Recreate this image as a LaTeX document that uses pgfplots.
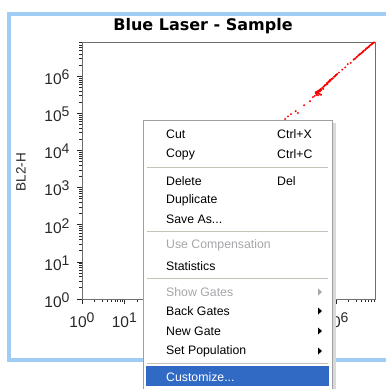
\documentclass[border=0pt]{standalone}
\usepackage{pgfplots}
\pgfplotsset{compat=1.18}
\usepackage{fontspec}
\setmainfont{Liberation Sans}
\newfontfamily\titlefont{DejaVu Sans}
\definecolor{framebl}{RGB}{160,205,245}
\definecolor{axgray}{RGB}{110,110,110}
\definecolor{ticktxt}{RGB}{40,40,40}
\definecolor{menuborder}{RGB}{160,160,160}
\definecolor{sepcol}{RGB}{197,194,184}
\definecolor{disabled}{RGB}{167,166,170}
\definecolor{hilite}{RGB}{49,106,197}
\newcommand\tl[1]{10\raisebox{5pt}{\fontsize{14}{14}\selectfont #1}}
\newcommand\mfont{\fontsize{12.3}{12.3}\selectfont}
\begin{document}
\begin{tikzpicture}[x=1pt,y=-1pt]
\useasboundingbox (0,0) rectangle (386,389);
\fill[white] (0,0) rectangle (386,389);
% outer window frame
\draw[framebl, line width=4pt] (9,13.5) rectangle (400,360);
% title
\node at (203,26) {\titlefont\bfseries\fontsize{16}{16}\selectfont Blue Laser - Sample};
\node[rotate=90, text=ticktxt] at (21,172) {\fontsize{13.5}{13.5}\selectfont BL2-H};
\coordinate (axsw) at (82,299);
\begin{axis}[
  at={(axsw)}, anchor=south west,
  scale only axis, width=293pt, height=257pt,
  xmode=log, ymode=log,
  xmin=1, xmax=8388608, ymin=1, ymax=8388608,
  axis line style={axgray, line width=0.9pt},
  tick pos=left, tick align=outside,
  major tick length=5pt, minor tick length=2.5pt,
  every tick/.style={ticktxt, line width=0.7pt},
  xtick={1,10,100,1000,10000,100000,1000000},
  ytick={1,10,100,1000,10000,100000,1000000},
  minor xtick={2,3,4,5,6,7,8,9,20,30,40,50,60,70,80,90,200,300,400,500,600,700,800,900,2000,3000,4000,5000,6000,7000,8000,9000,20000,30000,40000,50000,60000,70000,80000,90000,200000,300000,400000,500000,600000,700000,800000,900000,2000000,3000000,4000000,5000000,6000000,7000000,8000000},
  minor ytick={2,3,4,5,6,7,8,9,20,30,40,50,60,70,80,90,200,300,400,500,600,700,800,900,2000,3000,4000,5000,6000,7000,8000,9000,20000,30000,40000,50000,60000,70000,80000,90000,200000,300000,400000,500000,600000,700000,800000,900000,2000000,3000000,4000000,5000000,6000000,7000000,8000000},
  xticklabels={\tl{0},\tl{1},{},{},{},{},\tl{6}},
  yticklabels={\tl{0},\tl{1},\tl{2},\tl{3},\tl{4},\tl{5},\tl{6}},
  ticklabel style={font=\fontsize{15.5}{15.5}\selectfont, text=ticktxt},
  xticklabel style={yshift=-5pt},
  yticklabel style={xshift=-4pt, yshift=-1pt},
  clip=true,
]
\addplot[only marks, mark=*, mark size=0.75pt, red, mark options={draw=red, fill=red}] coordinates {
(6.31e4,7.08e4) (7.41e4,8.32e4) (8.71e4,9.55e4) (1.259e5,1.023e5) (1.122e5,1.148e5)
(1.778e5,1.660e5) (2.455e5,2.138e5) (2.884e5,2.754e5)
(3.162e5,2.951e5) (3.311e5,3.548e5) (3.467e5,3.162e5) (3.548e5,3.802e5) (3.631e5,3.388e5)
(3.715e5,3.715e5) (3.802e5,4.074e5) (3.890e5,3.548e5) (3.981e5,3.890e5) (4.074e5,4.266e5)
(4.169e5,3.311e5) (4.266e5,3.981e5) (4.365e5,4.571e5) (4.467e5,3.162e5) (4.571e5,4.365e5)
(4.786e5,4.898e5) (5.012e5,4.571e5) (3.802e5,3.090e5) (3.388e5,3.802e5)
(3.600e5,3.650e5) (3.900e5,3.950e5) (4.150e5,4.100e5) (4.400e5,4.300e5) (3.450e5,3.400e5)
(5.248e5,5.370e5) (5.495e5,5.754e5) (5.888e5,6.026e5) (6.166e5,6.607e5) (6.607e5,6.918e5)
(6.918e5,7.413e5) (7.413e5,7.762e5) (7.943e5,8.511e5) (8.511e5,8.913e5) (9.120e5,9.772e5)
(9.772e5,1.047e6) (1.072e6,1.148e6) (1.175e6,1.259e6) (6.310e5,6.166e5) (7.244e5,7.943e5)
(5.100e5,5.250e5) (5.700e5,5.800e5) (6.400e5,6.700e5) (7.100e5,7.300e5) (7.700e5,8.200e5)
(8.300e5,8.700e5) (9.400e5,1.000e6) (1.020e6,1.100e6)
(1.413e6,1.514e6) (1.660e6,1.738e6) (1.905e6,2.138e6) (2.239e6,2.291e6)
(2.630e6,2.818e6) (2.884e6,3.020e6) (3.162e6,3.388e6) (3.388e6,3.631e6) (3.631e6,3.890e6)
(3.981e6,4.169e6) (4.266e6,4.467e6) (4.571e6,4.898e6) (4.898e6,5.129e6) (5.248e6,5.623e6)
(5.623e6,5.888e6) (6.026e6,6.310e6) (6.457e6,6.918e6) (6.918e6,7.244e6) (7.413e6,7.762e6)
(7.943e6,8.128e6)
(2.750e6,2.950e6) (3.050e6,3.250e6) (3.500e6,3.750e6) (3.800e6,4.050e6) (4.100e6,4.350e6)
(4.400e6,4.700e6) (5.050e6,5.350e6) (5.450e6,5.750e6) (5.850e6,6.100e6) (6.250e6,6.600e6)
(6.700e6,7.050e6) (7.150e6,7.500e6) (7.700e6,8.000e6)
};
\end{axis}
% context menu
\fill[gray!30] (333,123) rectangle (336,389);
\fill[white] (143,120) rectangle (332,390);
\draw[menuborder, line width=1pt] (143,120) -- (143,389) (143,120) -- (332,120) -- (332,389);
\foreach \yy in {167,231,278,363} {\draw[sepcol, line width=1pt] (147,\yy) -- (328,\yy);}
\fill[hilite] (146,366) rectangle (329,386);
\begin{scope}[every node/.style={anchor=west, inner sep=0pt, font=\mfont}]
\node at (166,134) {Cut};
\node at (166,154) {Copy};
\node at (166,181) {Delete};
\node at (166,200) {Duplicate};
\node at (166,219) {Save As...};
\node[text=disabled] at (166,245) {Use Compensation};
\node at (166,266) {Statistics};
\node[text=disabled] at (166,292) {Show Gates};
\node at (166,311) {Back Gates};
\node at (166,331) {New Gate};
\node at (166,351) {Set Population};
\node[text=white] at (166,377) {Customize...};
\node at (277,134) {Ctrl+X};
\node at (277,154) {Ctrl+C};
\node at (277,181) {Del};
\end{scope}
\fill[disabled] (318,288.5) -- (322,292) -- (318,295.5) -- cycle;
\foreach \yy in {311,331,351} {\fill[black] (318,\yy-3.5) -- (322,\yy) -- (318,\yy+3.5) -- cycle;}
\end{tikzpicture}
\end{document}
